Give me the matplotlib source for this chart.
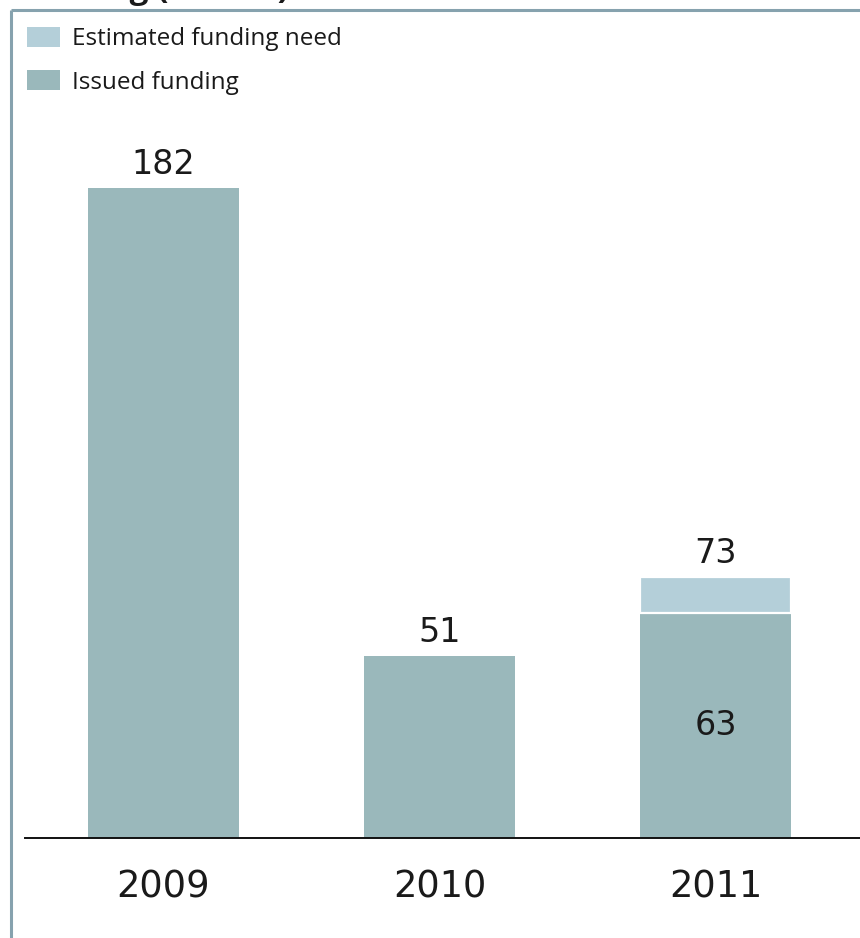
import matplotlib
matplotlib.use("Agg")
import matplotlib.pyplot as plt
from matplotlib.lines import Line2D
from matplotlib.patches import Patch

years = ["2009", "2010", "2011"]
issued = [182, 51, 63]
estimated_total = [None, None, 73]
series_names = ["Estimated funding need", "Issued funding"]

ISSUED_COLOR = "#9ab8bb"
ESTIMATED_COLOR = "#b4cfd9"
FRAME_COLOR = "#86a2ae"
TEXT_COLOR = "#1a1a1a"
NUM_FONT = "DejaVu Sans"

W, H = 860, 938
fig = plt.figure(figsize=(W / 100, H / 100), dpi=100)

# panel title sits mostly above the page edge
fig.text(14 / W, 1 + 2 / H, "Funding (EURbn)", fontsize=24, fontweight="bold",
         family="Open Sans", color=TEXT_COLOR, ha="left", va="baseline")

# frame lines on the top and left of the panel
fig.add_artist(Line2D([11 / W, 1.0], [1 - 10 / H, 1 - 10 / H], transform=fig.transFigure,
                      color=FRAME_COLOR, lw=2.2, solid_capstyle="butt"))
fig.add_artist(Line2D([11 / W, 11 / W], [0, 1 - 10 / H], transform=fig.transFigure,
                      color=FRAME_COLOR, lw=2.2, solid_capstyle="butt"))

ax = fig.add_axes([25 / W, (H - 838) / H, 1 - 25 / W, (838 - 110) / H])
x = list(range(len(years)))
width = 0.55

ax.bar(x, issued, width=width, color=ISSUED_COLOR, zorder=2)
for i, total in enumerate(estimated_total):
    if total is None:
        continue
    ax.bar(x[i], total - issued[i], bottom=issued[i], width=width,
           color=ESTIMATED_COLOR, edgecolor="white", linewidth=1.6, zorder=3)

label_kw = dict(fontsize=24, family=NUM_FONT, color=TEXT_COLOR, ha="center")
for i in x:
    top = estimated_total[i] if estimated_total[i] is not None else issued[i]
    ax.annotate(str(top), (x[i], top), xytext=(0, 10), textcoords="offset points",
                va="baseline", **label_kw)
    if estimated_total[i] is not None:
        ax.text(x[i], issued[i] / 2, str(issued[i]), va="center", **label_kw)

ax.set_xlim(-0.502, 2.524)
ax.set_ylim(0, 203.9)
ax.set_yticks([])
ax.set_xticks(x)
ax.set_xticklabels(years, fontsize=26.5, family=NUM_FONT, color=TEXT_COLOR)
ax.tick_params(axis="x", length=0, pad=22)
for side in ["top", "right", "left"]:
    ax.spines[side].set_visible(False)
ax.spines["bottom"].set_color("#111111")
ax.spines["bottom"].set_linewidth(1.4)
ax.patch.set_alpha(0)

handles = [Patch(facecolor=ESTIMATED_COLOR), Patch(facecolor=ISSUED_COLOR)]
fig.legend(handles, series_names, loc="upper left", bbox_to_anchor=(17 / W, 1 - 17 / H),
           frameon=False, prop={"family": "Open Sans", "size": 17.5},
           handlelength=1.38, handleheight=0.88, handletextpad=0.49, labelspacing=0.8,
           borderaxespad=0, labelcolor=TEXT_COLOR)

fig.savefig("out.png", dpi=100)
